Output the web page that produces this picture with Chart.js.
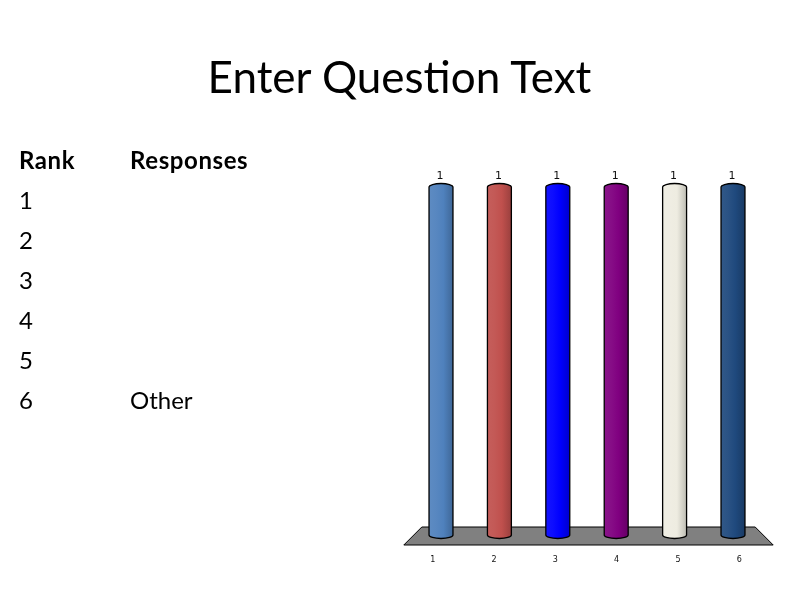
<!DOCTYPE html>
<html>
<head>
<meta charset="utf-8">
<script src="https://cdn.jsdelivr.net/npm/chart.js@4.4.1/dist/chart.umd.min.js"></script>
<style>
  html, body { margin: 0; padding: 0; background: #ffffff; }
  #wrap { position: relative; width: 799px; height: 599px; overflow: hidden; background: #fff; }
  #c { position: absolute; left: 0; top: 0; }
  .t { position: absolute; font-family: Lato, "Open Sans", sans-serif; color: #000; white-space: nowrap; }
  #title { left: 0; width: 799px; text-align: center; top: 48px; font-size: 44px; line-height: 56px; }
  .row { font-size: 24px; line-height: 40px; height: 40px; }
  .hdr { font-weight: bold; letter-spacing: 0.6px; }
</style>
</head>
<body>
<div id="wrap">
  <canvas id="c" width="799" height="599"></canvas>
  <div id="title" class="t">Enter Question Text</div>
  <div id="table"></div>
</div>
<script>
// ---- data ----
const titleText = 'Enter Question Text';
const tableHeaders = ['Rank', 'Responses'];
const rankLabels = ['1', '2', '3', '4', '5', '6'];
const responseLabels = ['', '', '', '', '', 'Other'];
const categories = ['1', '2', '3', '4', '5', '6'];
const values = [1, 1, 1, 1, 1, 1];
const barColors = ['#4F81BD', '#C0504D', '#0000FF', '#800080', '#EEECE1', '#1F497D'];

document.getElementById('title').textContent = titleText;

// ---- table (HTML text) ----
const table = document.getElementById('table');
function addCell(text, x, y, bold) {
  const d = document.createElement('div');
  d.className = bold ? 't row hdr' : 't row';
  d.style.left = x + 'px';
  d.style.top = y + 'px';
  d.textContent = text;
  table.appendChild(d);
}
const rowTop0 = 140, rowStep = 40;
addCell(tableHeaders[0], 19, rowTop0, true);
addCell(tableHeaders[1], 130, rowTop0, true);
rankLabels.forEach((r, i) => {
  addCell(r, 19, rowTop0 + rowStep * (i + 1), false);
  if (responseLabels[i]) addCell(responseLabels[i], 130, rowTop0 + rowStep * (i + 1), false);
});

// ---- colour helpers ----
function hexToRgb(h) {
  const n = parseInt(h.slice(1), 16);
  return [(n >> 16) & 255, (n >> 8) & 255, n & 255];
}
function shade(h, f) {
  const [r, g, b] = hexToRgb(h);
  const m = v => f >= 0 ? Math.round(v + (255 - v) * f) : Math.round(v * (1 + f));
  return `rgb(${m(r)},${m(g)},${m(b)})`;
}

// ---- plugins ----
const floorPlugin = {
  id: 'floor',
  beforeDatasetsDraw(chart) {
    const { ctx, chartArea: a } = chart;
    ctx.save();
    ctx.beginPath();
    ctx.moveTo(a.left + 10, a.bottom - 8);
    ctx.lineTo(a.right - 7, a.bottom - 8);
    ctx.lineTo(a.right + 11, a.bottom + 10);
    ctx.lineTo(a.left - 8, a.bottom + 10);
    ctx.closePath();
    ctx.fillStyle = '#808080';
    ctx.fill();
    ctx.lineWidth = 1;
    ctx.strokeStyle = '#000';
    ctx.stroke();
    ctx.restore();
  }
};

const cylinderPlugin = {
  id: 'cylinders',
  afterDatasetsDraw(chart) {
    const { ctx, chartArea: a } = chart;
    const meta = chart.getDatasetMeta(0);
    const xs = chart.scales.x;
    ctx.save();
    meta.data.forEach((bar, i) => {
      const { x, y, base, width } = bar.getProps(['x', 'y', 'base', 'width'], true);
      const rx = width / 2, ry = 3.5;
      const col = barColors[i];
      const g = ctx.createLinearGradient(x - rx, 0, x + rx, 0);
      g.addColorStop(0, shade(col, 0.08));
      g.addColorStop(0.3, shade(col, 0.05));
      g.addColorStop(0.6, col);
      g.addColorStop(1, shade(col, -0.2));
      ctx.beginPath();
      ctx.moveTo(x - rx, y);
      ctx.lineTo(x - rx, base);
      ctx.ellipse(x, base, rx, ry, 0, Math.PI, 0, true);
      ctx.lineTo(x + rx, y);
      ctx.ellipse(x, y, rx, ry, 0, 0, Math.PI, true);
      ctx.closePath();
      ctx.fillStyle = g;
      ctx.fill();
      ctx.lineWidth = 1.3;
      ctx.strokeStyle = '#000';
      ctx.stroke();
      // value label
      ctx.fillStyle = '#111';
      ctx.font = '11px "DejaVu Sans", Lato, sans-serif';
      ctx.textAlign = 'center';
      ctx.textBaseline = 'alphabetic';
      ctx.fillText(String(values[i]), x - 1, y - 8);
    });
    // category labels on the floor front (perspective spread)
    const cx = (a.left + a.right) / 2;
    ctx.fillStyle = '#111';
    ctx.font = '8px "DejaVu Sans", sans-serif';
    ctx.textAlign = 'center';
    ctx.textBaseline = 'middle';
    xs.getLabels().forEach((lab, i) => {
      const px = xs.getPixelForValue(i);
      ctx.fillText(lab, cx + (px - cx) * 1.05 - 1, a.bottom + 25);
    });
    ctx.restore();
  }
};

new Chart(document.getElementById('c'), {
  type: 'bar',
  data: {
    labels: categories,
    datasets: [{
      data: values,
      backgroundColor: 'rgba(0,0,0,0)',
      borderWidth: 0,
      barPercentage: 0.82,
      categoryPercentage: 0.5
    }]
  },
  options: {
    responsive: false,
    animation: false,
    events: [],
    layout: { padding: { left: 411.8, right: 36.8, top: 187, bottom: 64 } },
    plugins: { legend: { display: false }, tooltip: { enabled: false }, title: { display: false } },
    scales: {
      x: { display: false },
      y: { display: false, min: 0, max: 1 }
    }
  },
  plugins: [floorPlugin, cylinderPlugin]
});
</script>
</body>
</html>
